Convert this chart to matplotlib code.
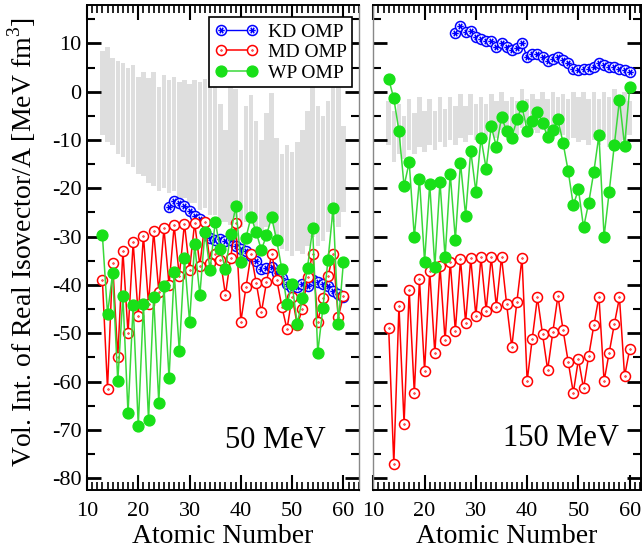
import matplotlib
matplotlib.use('Agg')
import matplotlib.pyplot as plt
from matplotlib.path import Path
from matplotlib.ticker import MultipleLocator, FixedLocator

# ---------------- data ----------------
Z_all = list(range(13, 61))
Z_kd = list(range(26, 61))

# grey band (range) 50 MeV
band50_top = [8.5, 9.3, 6.9, 6.4, 6.0, 5.0, 5.5, 3.0, 4.1, 2.8, 4.0, 1.0,
              3.4, 2.4, 3.0, 2.0, 2.5, 1.5, 2.4, 2.0, 2.6, 2.2, 3.0, -2.5,
              -8.0, 2.5, 0.5, -12.0, -3.0, -0.7, -6.0, -10.0, -4.5, -0.3, -9.5, -13.0,
              -11.0, -12.5, -10.5, -8.0, -4.0, 1.5, -3.0, -5.0, -2.0, 2.4, 1.0, -7.0]
band50_bot = [-9, -10.5, -11, -13, -13.5, -15, -15.5, -17, -17.5, -19, -19.5, -20.5,
              -20, -21, -20.5, -22, -22, -23, -23, -24.5, -24, -25.5, -25.5, -27,
              -27, -27.5, -26, -28, -27, -26, -29, -30, -28, -27, -31, -32.5,
              -33, -34, -33, -33.5, -32, -30, -32, -31, -29, -27, -28, -25]

# grey band 150 MeV
band150_top = [-2, -4, -2.5, -5, -1.5, -4.5, -1, -4, -1.5, -4, -1, -3.5,
               -1, -3, -0.5, -3, -0.5, -2.5, -1, -2.5, -0.5, -2, 0, -2,
               -1, -2, 0.5, -1.5, -0.5, -1.5, 0, -1.5, 0, -1, -0.5, -1.5,
               0, -1, 0, -1.5, 0, -1.5, 0, -1, 0.5, -1, 0, -2]
band150_bot = [-11, -14.5, -13, -14, -12, -13, -11.5, -12.5, -11, -12, -10.5, -11.5,
               -10, -11, -9.5, -10.5, -9, -10, -9, -10, -8.5, -9.5, -8, -9,
               -8, -9, -7.5, -8.5, -8, -8.5, -8, -9, -8.5, -9, -9, -10,
               -9.5, -10.5, -10, -11, -10, -11, -10, -11.5, -10.5, -11, -10, -9]

kd_50 = [-23.8, -22.7, -23.0, -23.6, -24.8, -25.8, -26.3, -29.0, -30.3, -30.8,
         -30.4, -31.0, -30.6, -32.0, -32.6, -33.0, -34.0, -35.0, -36.8, -36.5,
         -36.2, -37.6, -38.6, -39.8, -40.6, -40.4, -39.8, -40.2, -39.0, -39.4,
         -39.8, -40.2, -41.2, -41.8, -42.6]
md_50 = [-39.0, -61.5, -35.4, -55.0, -33.0, -50.0, -31.2, -46.4, -29.8, -44.0,
         -28.9, -41.4, -28.3, -40.0, -27.7, -38.2, -27.3, -36.9, -27.1, -36.0,
         -27.0, -35.5, -33.5, -34.8, -42.1, -34.5, -27.2, -47.6, -40.5, -33.6,
         -39.6, -45.7, -39.5, -33.5, -38.9, -44.5, -49.2, -42.4, -48.3, -45.0,
         -38.4, -33.5, -47.6, -42.8, -38.2, -33.6, -46.6, -42.3]
wp_50 = [-29.7, -46.0, -37.6, -59.9, -42.2, -66.6, -44.2, -69.2, -44.0, -68.0,
         -42.4, -64.4, -40.2, -59.3, -37.4, -53.7, -34.5, -47.6, -31.6, -42.1,
         -29.1, -36.9, -26.9, -32.6, -36.8, -29.5, -23.7, -35.2, -30.2, -25.9,
         -29.1, -32.8, -29.7, -26.0, -30.8, -36.8, -44.0, -39.9, -48.1, -42.8,
         -36.4, -28.3, -54.0, -44.8, -34.8, -24.1, -48.1, -35.3]

kd_150 = [12.1, 13.5, 12.4, 12.6, 11.4, 11.0, 10.4, 10.6, 9.3, 10.0,
          9.3, 8.6, 9.0, 10.0, 7.2, 7.9, 7.9, 7.1, 6.4, 6.7,
          7.1, 6.6, 5.9, 4.8, 4.5, 4.8, 4.8, 5.2, 6.0, 5.5,
          5.2, 5.2, 4.8, 4.5, 4.1]
md_150 = [-48.9, -77.1, -44.3, -68.7, -41.1, -62.4, -38.8, -57.8, -37.1, -54.2,
          -36.1, -51.5, -35.2, -49.5, -34.7, -47.8, -34.5, -46.4, -34.3, -45.3,
          -34.3, -44.5, -34.2, -44.0, -52.9, -43.5, -34.4, -59.9, -51.1, -42.6,
          -50.2, -57.6, -49.8, -42.3, -49.3, -55.9, -62.3, -55.4, -61.4, -54.7,
          -48.4, -42.4, -59.9, -54.0, -48.1, -42.6, -58.9, -53.3]
wp_150 = [2.6, -1.4, -8.1, -19.5, -14.6, -30.1, -18.1, -35.2, -19.1, -36.2,
          -18.6, -34.3, -17.0, -30.6, -14.7, -25.7, -12.2, -20.7, -9.6, -15.9,
          -7.2, -11.4, -5.3, -8.1, -9.6, -5.7, -3.0, -8.1, -6.0, -4.1,
          -6.4, -9.4, -7.9, -5.7, -10.6, -16.4, -23.5, -20.2, -28.1, -23.0,
          -16.6, -9.0, -30.0, -20.7, -11.0, -1.7, -11.2, 0.9]

y_ticks = [-80, -70, -60, -50, -40, -30, -20, -10, 0, 10]
x_ticks = [10, 20, 30, 40, 50, 60]
series_labels = ['KD OMP', 'MD OMP', 'WP OMP']
panel_labels = ['50 MeV', '150 MeV']

# ---------------- style ----------------
plt.rcParams['font.family'] = ['Liberation Serif', 'DejaVu Serif']
plt.rcParams['mathtext.fontset'] = 'custom'
plt.rcParams['mathtext.rm'] = 'Liberation Serif'
plt.rcParams['axes.unicode_minus'] = False

# custom markers
circ = Path.unit_circle()
star = Path([(-0.65, 0), (0.65, 0), (-0.33, -0.56), (0.33, 0.56), (-0.33, 0.56), (0.33, -0.56)],
            [Path.MOVETO, Path.LINETO, Path.MOVETO, Path.LINETO, Path.MOVETO, Path.LINETO])
kd_marker = Path.make_compound_path(circ, star)
dot = Path(circ.vertices * 0.08, circ.codes)
md_marker = Path.make_compound_path(circ, dot)

BLUE = '#0000ff'
RED = '#ff0000'
GREEN_M = '#18e018'
GREEN_L = '#3ad83a'
GREY = '#dedede'

fig = plt.figure(figsize=(6.44, 5.50), dpi=100)
axL = fig.add_axes([87/644, 1-490/550, 272.3/644, 485/550])
axR = fig.add_axes([373.3/644, 1-490/550, 267.7/644, 485/550])

ylim = (-82.46, 17.95)

def draw(ax, top, bot, kd, md, wp, xlim):
    heights = [t - b for t, b in zip(top, bot)]
    ax.bar(Z_all, heights, bottom=bot, width=0.88, color=GREY, zorder=1, linewidth=0)
    ax.plot(Z_kd, kd, color=BLUE, lw=1.0, marker=kd_marker, ms=7.2, mec=BLUE,
            mfc='white', mew=1.1, zorder=3, label=series_labels[0])
    ax.plot(Z_all, md, color=RED, lw=1.1, marker=md_marker, ms=7.2, mec=RED,
            mfc='white', mew=1.1, zorder=4, label=series_labels[1])
    ax.plot(Z_all, wp, color=GREEN_L, lw=1.1, marker='o', ms=7.8, mec=GREEN_M,
            mfc=GREEN_M, zorder=5, label=series_labels[2])
    ax.set_xlim(*xlim)
    ax.set_ylim(*ylim)
    ax.xaxis.set_major_locator(FixedLocator(x_ticks))
    ax.xaxis.set_minor_locator(MultipleLocator(1))
    ax.yaxis.set_major_locator(FixedLocator(y_ticks))
    ax.yaxis.set_minor_locator(MultipleLocator(5))
    ax.tick_params(which='both', direction='in', top=True, right=True, color='black')
    ax.tick_params(axis='x', which='major', length=11, width=1.5, labelsize=16, pad=9)
    ax.tick_params(axis='x', which='minor', length=6, width=1.2)
    ax.tick_params(axis='y', which='major', length=10, width=2.0, labelsize=16, pad=4)
    ax.tick_params(axis='y', which='minor', length=6, width=1.5)
    for s in ax.spines.values():
        s.set_linewidth(1.4)
    ax.set_xlabel('Atomic Number', fontsize=20, labelpad=2)

draw(axL, band50_top, band50_bot, kd_50, md_50, wp_50, (10, 63.1))
draw(axR, band150_top, band150_bot, kd_150, md_150, wp_150, (10, 62.2))
axR.tick_params(axis='y', labelleft=False)
axL.spines['right'].set_color('#888888')
axL.spines['right'].set_linewidth(1.0)
axR.spines['left'].set_color('#888888')
axR.spines['left'].set_linewidth(1.0)

fig.text(0.034, 0.56, 'Vol. Int. of Real Isovector/A [MeV fm$^3$]', rotation=90,
         ha='center', va='center', fontsize=20)

axL.text(0.69, 0.103, panel_labels[0], transform=axL.transAxes, ha='center',
         va='center', fontsize=22)
axR.text(0.70, 0.107, panel_labels[1], transform=axR.transAxes, ha='center',
         va='center', fontsize=22)

leg = axL.legend(loc='upper right', bbox_to_anchor=(0.975, 0.975), numpoints=2,
                 fontsize=14, frameon=True, fancybox=False, borderaxespad=0,
                 handlelength=2.2, handletextpad=0.5, borderpad=0.3, labelspacing=0.15)
leg.get_frame().set_edgecolor('black')
leg.get_frame().set_linewidth(1.2)
leg.get_frame().set_alpha(1)

fig.savefig('out.png', dpi=100)
